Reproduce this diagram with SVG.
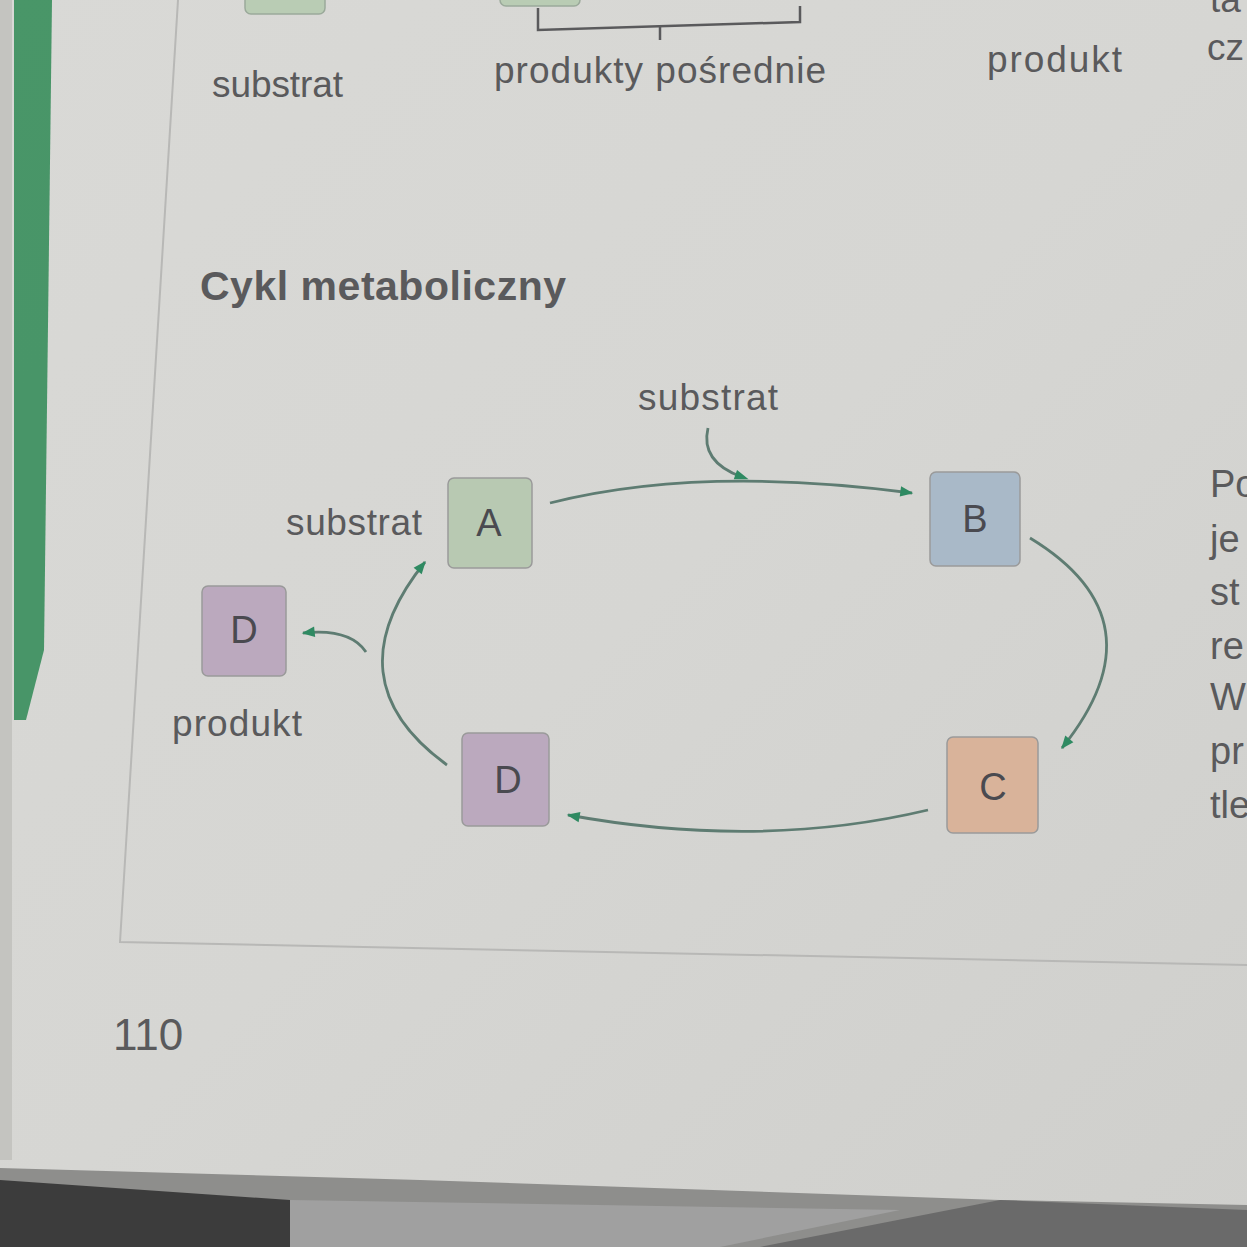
<svg xmlns="http://www.w3.org/2000/svg" width="1247" height="1247" viewBox="0 0 1247 1247">
<defs>
<linearGradient id="page" x1="0" y1="0" x2="1" y2="1">
<stop offset="0" stop-color="#d9d9d6"/>
<stop offset="0.5" stop-color="#d6d6d3"/>
<stop offset="1" stop-color="#cfcfcc"/>
</linearGradient>
<marker id="ah" viewBox="0 0 10 10" refX="9" refY="5" markerWidth="16" markerHeight="13" orient="auto" markerUnits="userSpaceOnUse">
<path d="M0,1 L10,5 L0,9 z" fill="#2f8a62"/>
</marker>
<marker id="ahm" viewBox="0 0 10 10" refX="5" refY="5" markerWidth="18" markerHeight="14" orient="auto" markerUnits="userSpaceOnUse">
<path d="M0,1.5 L10,5 L0,8.5 z" fill="#2f8a62"/>
</marker>
<style>
.t{font-family:"Liberation Sans",Arial,sans-serif;fill:#5a5a5c}
.lbl{font-size:37px}
.node text{font-family:"Liberation Sans",Arial,sans-serif;font-size:38px;fill:#4a4a50;text-anchor:middle}
.node rect{stroke:#9a9a9a;stroke-width:1.5}
.c{fill:none;stroke:#5e7c72;stroke-width:2.8}
</style>
</defs>
<rect width="1247" height="1247" fill="url(#page)"/>
<polygon points="0,0 12,0 12,1160 0,1160" fill="#c4c4c0"/>
<polygon points="14,0 52,0 44,650 26,720 14,720" fill="#2f8a55" opacity="0.85"/>
<polygon points="0,1168 420,1180 1000,1200 1247,1205 1247,1247 0,1247" fill="#8e8e8c"/>
<polygon points="0,1180 290,1200 290,1247 0,1247" fill="#3c3c3c"/>
<polygon points="290,1200 900,1210 720,1247 290,1247" fill="#a0a0a0"/>
<polygon points="760,1247 1000,1200 1247,1210 1247,1247" fill="#6a6a6a"/>
<g fill="none" stroke="#b8b8b6" stroke-width="2">
<polyline points="178,0 120,942 1247,965"/>
</g>
<g id="top-partial">
<rect x="245" y="-20" width="80" height="34" rx="6" fill="#b9ccb4" stroke="#9aa99a" stroke-width="1.5"/>
<rect x="500" y="-20" width="80" height="26" rx="6" fill="#b9ccb4" stroke="#9aa99a" stroke-width="1.5"/>
<polyline points="538,8 538,30 800,22 800,6" fill="none" stroke="#5a5a5c" stroke-width="2.5"/>
<line x1="660" y1="27" x2="660" y2="40" stroke="#5a5a5c" stroke-width="2.5"/>
</g>
<text class="t lbl" x="212" y="97" textLength="131">substrat</text>
<text class="t lbl" x="494" y="83" textLength="332">produkty pośrednie</text>
<text class="t lbl" x="987" y="72" textLength="135">produkt</text>
<text class="t lbl" x="1207" y="60">cz</text>
<text class="t lbl" x="1210" y="12">ta</text>
<text class="t" x="200" y="300" font-size="41" font-weight="bold" fill="#58585c" textLength="366">Cykl metaboliczny</text>
<text class="t lbl" x="638" y="410" textLength="140">substrat</text>
<text class="t lbl" x="286" y="535" textLength="136">substrat</text>
<text class="t lbl" x="172" y="736" textLength="130">produkt</text>
<text class="t" x="113" y="1050" font-size="44" fill="#4a4a4c">110</text>
<g class="t" font-size="38" fill="#4e4e50">
<text x="1210" y="497">Po</text>
<text x="1210" y="552">je</text>
<text x="1210" y="605">st</text>
<text x="1210" y="659">re</text>
<text x="1210" y="710">W</text>
<text x="1210" y="764">pr</text>
<text x="1210" y="818">tle</text>
</g>
<g id="connectors">
<path class="c" d="M550,503 Q700,465 912,493" marker-end="url(#ah)"/>
<path class="c" d="M708,428 Q700,462 742,477" marker-end="url(#ahm)"/>
<path class="c" d="M1030,538 Q1165,620 1062,748" marker-end="url(#ah)"/>
<path class="c" d="M928,810 Q760,850 568,815" marker-end="url(#ah)"/>
<path class="c" d="M447,765 Q330,680 425,562" marker-end="url(#ah)"/>
<path class="c" d="M366,652 Q350,628 303,633" marker-end="url(#ah)"/>
</g>
<g id="node-A" class="node"><rect x="448" y="478" width="84" height="90" rx="6" fill="#b8c9b2"/><text x="489" y="536">A</text></g>
<g id="node-B" class="node"><rect x="930" y="472" width="90" height="94" rx="6" fill="#a9b9c8"/><text x="975" y="532">B</text></g>
<g id="node-C" class="node"><rect x="947" y="737" width="91" height="96" rx="6" fill="#d9b39a"/><text x="993" y="800">C</text></g>
<g id="node-D" class="node"><rect x="462" y="733" width="87" height="93" rx="6" fill="#bba9be"/><text x="508" y="793">D</text></g>
<g id="node-D-out" class="node"><rect x="202" y="586" width="84" height="90" rx="6" fill="#bba9be"/><text x="244" y="643">D</text></g>
</svg>
